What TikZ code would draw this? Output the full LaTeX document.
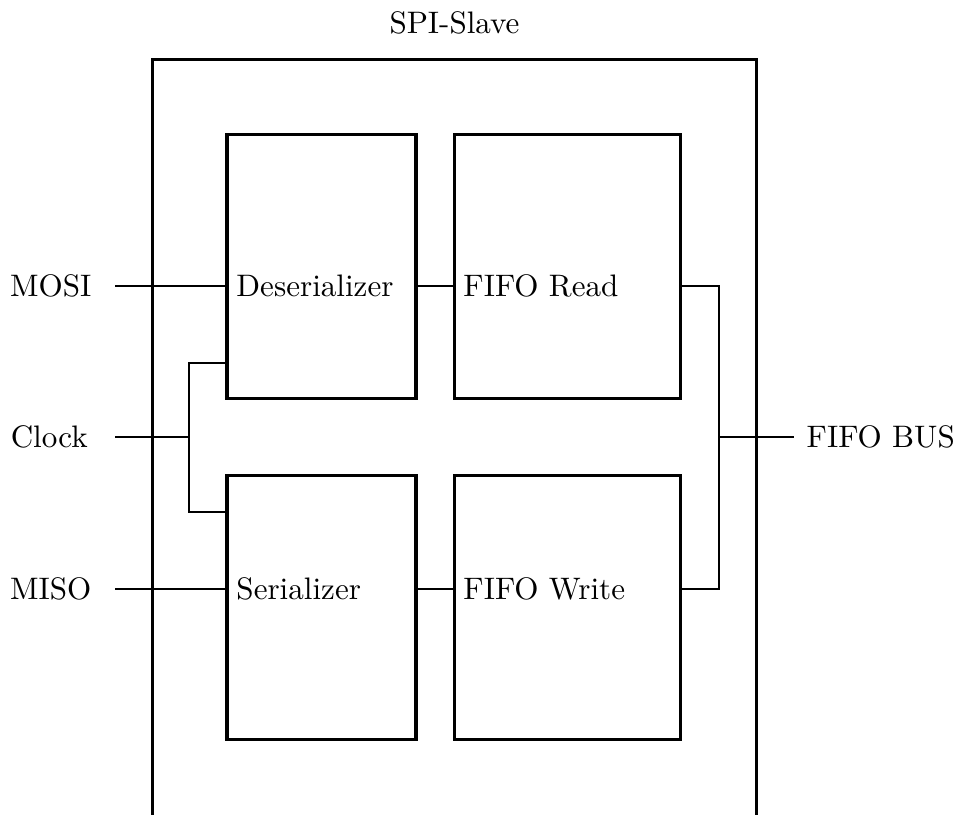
\documentclass[tikz,border=0pt]{standalone}
\usepackage{tikz}

\tikzset{
    block/.style={draw,line width=1pt,minimum width=2.136cm,minimum height=2.98cm,inner sep=0pt},
    fifoblock/.style={block,minimum width=2.565cm},
    wire/.style={line width=0.6pt},
    port/.style={inner ysep=2pt}
}

\begin{document}
\begin{tikzpicture}[x=0.0113cm,y=-0.0113cm]
        \useasboundingbox (0,0) rectangle (955,814);
        % outer frame (bottom edge falls off the page)
        \node[draw,line width=1pt,minimum width=6.837cm,minimum height=8.59cm,inner sep=0pt] (spi) at (454.5,439) {};
        \node (spiname) at (454.5,23) {SPI-Slave};
        % inner blocks
        \node[block] (deser) at (321.5,266.5) {};
        \node[fifoblock] (fread) at (567.5,266.5) {};
        \node[block] (ser) at (321.5,607.5) {};
        \node[fifoblock] (fwrite) at (567.5,607.5) {};
        % ports
        \node[port,anchor=east,inner xsep=7.4pt] (mosi) at (115,286) {MOSI};
        \node[port,anchor=east,inner xsep=8.6pt] (clk) at (115,437) {Clock};
        \node[port,anchor=east,inner xsep=7.4pt] (miso) at (115,589) {MISO};
        \node[port,anchor=west,inner xsep=3.9pt] (bus) at (794,437) {FIFO BUS};
        \coordinate (clkjoin) at (189,437);
        \coordinate (busjoin) at (719,437);
        % block labels
        \node[anchor=west] (deserlbl) at (deser.west |- mosi) {Deserializer};
        \node[anchor=west] (freadlbl) at (fread.west |- mosi) {FIFO Read};
        \node[anchor=west] (serlbl) at (ser.west |- miso) {Serializer};
        \node[anchor=west] (fwritelbl) at (fwrite.west |- miso) {FIFO Write};
        % wiring
        \draw[wire] (mosi) -- (deser.west |- mosi);
        \draw[wire] (miso) -- (ser.west |- miso);
        \draw[wire] (clk) -- (clkjoin);
        \draw[wire] ([yshift=0.42cm]deser.south west) -| (clkjoin) |- ([yshift=-0.43cm]ser.north west);
        \draw[wire] (deser.east |- mosi) -- (fread.west |- mosi);
        \draw[wire] (ser.east |- miso) -- (fwrite.west |- miso);
        \draw[wire] (fread.east |- mosi) -| (busjoin) |- (fwrite.east |- miso);
        \draw[wire] (busjoin) -- (bus);
    \end{tikzpicture}
\end{document}
